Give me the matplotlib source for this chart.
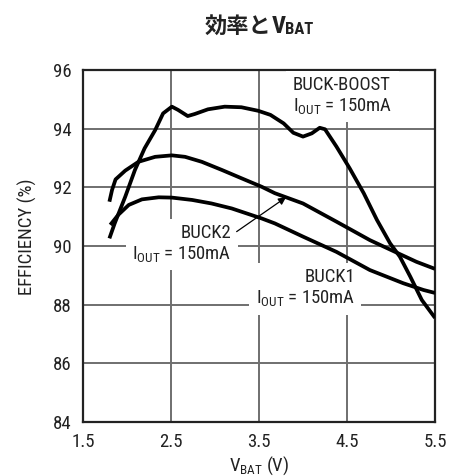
import matplotlib
matplotlib.use("Agg")
import matplotlib.pyplot as plt
from matplotlib.transforms import IdentityTransform

NARROW = "Roboto Condensed"
CJK = "Noto Sans CJK JP"
plt.rcParams["font.family"] = [NARROW, "DejaVu Sans"]
plt.rcParams["mathtext.fontset"] = "custom"
plt.rcParams["mathtext.rm"] = NARROW
plt.rcParams["mathtext.it"] = NARROW + ":italic"
plt.rcParams["mathtext.bf"] = NARROW + ":bold"

# Efficiency vs battery voltage, IOUT = 150mA
vbat_buckboost = [1.80, 1.86, 1.98, 2.09, 2.20, 2.32, 2.41, 2.51, 2.58, 2.69,
                  2.77, 2.92, 3.11, 3.30, 3.49, 3.63, 3.78, 3.89, 4.00, 4.10,
                  4.19, 4.25, 4.38, 4.53, 4.69, 4.84, 4.99, 5.10, 5.22, 5.35, 5.50]
eff_buckboost = [90.26, 90.77, 91.68, 92.59, 93.33, 93.95, 94.52, 94.75, 94.64, 94.43,
                 94.50, 94.66, 94.75, 94.73, 94.61, 94.47, 94.18, 93.86, 93.73, 93.84,
                 94.03, 93.98, 93.39, 92.65, 91.80, 90.89, 90.09, 89.64, 88.95, 88.16, 87.55]

vbat_buck2 = [1.80, 1.83, 1.87, 1.98, 2.13, 2.32, 2.51, 2.66, 2.85, 3.08,
              3.30, 3.53, 3.68, 4.00, 4.38, 4.76, 5.06, 5.29, 5.50]
eff_buck2 = [91.51, 91.91, 92.27, 92.57, 92.87, 93.04, 93.09, 93.04, 92.87, 92.59,
             92.31, 92.02, 91.80, 91.45, 90.83, 90.20, 89.78, 89.46, 89.22]

vbat_buck1 = [1.81, 1.90, 2.02, 2.17, 2.36, 2.51, 2.74, 2.96, 3.19, 3.38,
              3.53, 3.68, 4.00, 4.38, 4.76, 5.14, 5.37, 5.50]
eff_buck1 = [90.72, 91.06, 91.40, 91.59, 91.66, 91.65, 91.57, 91.45, 91.28, 91.09,
             90.94, 90.77, 90.32, 89.80, 89.18, 88.73, 88.50, 88.40]

x_ticks = [1.5, 2.5, 3.5, 4.5, 5.5]
x_tick_labels = ["1.5", "2.5", "3.5", "4.5", "5.5"]
y_ticks = [84, 86, 88, 90, 92, 94, 96]
y_tick_labels = ["84", "86", "88", "90", "92", "94", "96"]

W, H = 460, 476
fig = plt.figure(figsize=(W / 100, H / 100), dpi=100)
ax = fig.add_axes([83 / W, 1 - 422 / H, 352 / W, 352 / H])

ax.set_xlim(1.5, 5.5)
ax.set_ylim(84, 96)
ax.set_xticks(x_ticks)
ax.set_xticklabels(x_tick_labels)
ax.set_yticks(y_ticks)
ax.set_yticklabels(y_tick_labels)
ax.tick_params(length=0, pad=8, labelsize=13.5, colors="#222222")
ax.grid(True, color="#6f6f6f", lw=1.4, zorder=0)
ax.set_axisbelow(True)
for s in ax.spines.values():
    s.set_linewidth(1.6)
    s.set_color("#222222")

curve_style = dict(color="black", lw=2.7, solid_joinstyle="round",
                   solid_capstyle="butt", zorder=4)
ax.plot(vbat_buckboost, eff_buckboost, **curve_style)
ax.plot(vbat_buck2, eff_buck2, **curve_style)
ax.plot(vbat_buck1, eff_buck1, **curve_style)

box = dict(facecolor="white", edgecolor="none", boxstyle="square,pad=0.35")
label_kw = dict(fontsize=13.5, color="#222222", zorder=3, bbox=box, linespacing=1.1)
iout = r"$\mathregular{I_{OUT}}$ = 150mA"

ax.text(3.886, 95.12, "BUCK-BOOST\n" + iout, ha="left", va="center",
        multialignment="left", **label_kw)
ax.text(3.19, 90.07, "BUCK2\n" + iout, ha="right", va="center",
        multialignment="right", **label_kw)
ax.text(4.59, 88.56, "BUCK1\n" + iout, ha="right", va="center",
        multialignment="right", **label_kw)

ax.annotate("", xy=(3.807, 91.66), xytext=(3.246, 90.49),
            arrowprops=dict(arrowstyle="-|>", lw=0.9, color="black",
                            mutation_scale=11, shrinkA=0, shrinkB=0),
            zorder=5)

# axis titles
fig.text(27, H - 237, "EFFICIENCY (%)", rotation=90, ha="center", va="center",
         fontsize=13.5, color="#222222", transform=IdentityTransform())
fig.text(259, 5, r"$\mathregular{V_{BAT}}$ (V)", ha="center", va="baseline",
         fontsize=13.5, color="#222222", transform=IdentityTransform())

# chart title built from pieces: CJK text, bold V and subscript BAT
renderer = fig.canvas.get_renderer()
pieces = [
    ("効率と", dict(family=[CJK, "DejaVu Sans"], weight="bold", fontsize=16), 0.0),
    ("V", dict(family=[NARROW], weight="bold", fontsize=17.5), 0.0),
    ("BAT", dict(family=[NARROW], weight="bold", fontsize=12), -1.5),
]
texts = []
for s, kw, dy in pieces:
    t = fig.text(0, 0, s, ha="left", va="baseline", color="#222222",
                 transform=IdentityTransform(), **kw)
    texts.append((t, dy))
widths = [t.get_window_extent(renderer).width for t, _ in texts]
x = 259 - sum(widths) / 2
base = H - 33
for (t, dy), w in zip(texts, widths):
    t.set_position((x, base + dy))
    x += w

fig.savefig("out.png", dpi=100)
